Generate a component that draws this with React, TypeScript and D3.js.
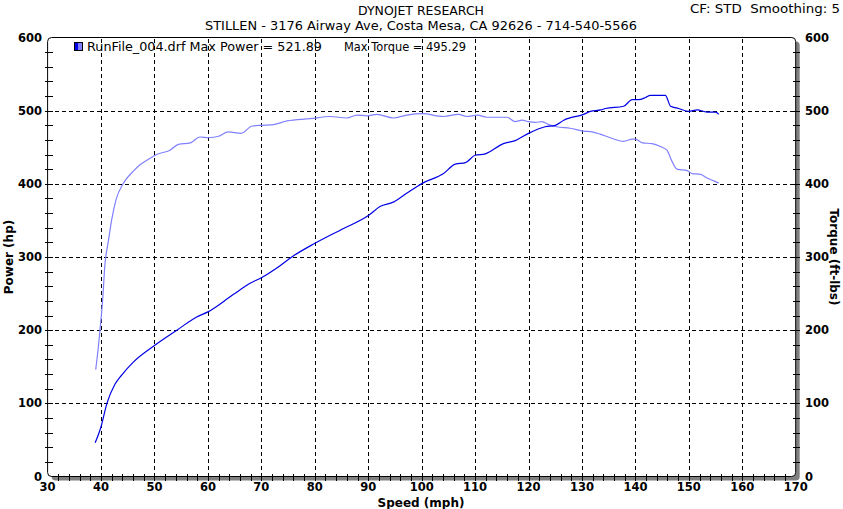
import React from "react";
import * as d3 from "d3";

const powerSpeed = [38.9,40,41.1,42.6,43.9,46,50,54.2,57.9,60,64.8,67.9,70.1,73.5,75.7,80.1,85.1,90.1,92.2,94.7,97.2,100.2,104.1,106.3,108.2,110,111.9,115.3,117.5,120,123.1,125,126.6,130.3,131.6,133.5,134.4,137.8,139.4,140.6,141.9,142.8,145.6,146.6,148.1,150,151.6,153.4,155,155.6];
const powerValues = [46,68,100,126,139,156,179,200,218,225,249,264,272,288,300,319,338,357,369,375,387,401,414,427,429,439,441,455,459,469,478,480,487,495,499,501,503,506,515,515,518,521,521,506,503,499,501,498,498,495];

const torqueSpeed = [39,39.5,39.8,40.3,40.7,41.4,42,42.8,44.2,46,47.3,49.2,50.4,52.9,54.5,56.7,58.5,60.1,62,63.8,66.2,68.3,70,72.3,74.8,79.1,82.9,86,87.9,89.8,91.6,94.7,97.2,100.1,104.1,106.9,108.4,110.4,112.2,116,117.5,118.8,120,121.3,122.5,123.8,125.3,127.8,130.3,131.9,133.4,135.3,137.8,139.4,140,141.3,143.1,144.7,145.9,146.9,147.8,149.7,150.6,152.2,153.4,154.7,155.6];
const torqueValues = [146,177,200,241,287,323,351,378,401,417,426,435,440,446,454,456,464,463,465,471,469,479,480,481,486,489,492,490,494,493,495,490,494,496,492,495,492,494,491,491,485,487,485,484,485,481,478,476,472,471,468,463,458,461,461,456,455,451,446,430,420,418,414,413,408,404,401];

const xTicks = [30,40,50,60,70,80,90,100,110,120,130,140,150,160,170];
const yTicks = [0,100,200,300,400,500,600];

const titleLine1 = "DYNOJET RESEARCH";
const titleLine2 = "STILLEN - 3176 Airway Ave, Costa Mesa, CA 92626 - 714-540-5566";
const cornerText = "CF: STD\u00a0\u00a0Smoothing: 5";
const legendText1 = "RunFile_004.drf Max Power = 521.89";
const legendText2 = "Max Torque = 495.29";

export default function App() {
  const W = 843, H = 509;
  const x = d3.scaleLinear().domain([30, 170]).range([47.6, 795.7]);
  const y = d3.scaleLinear().domain([0, 600]).range([476.5, 37.5]);
  const x0 = x(30), x1 = x(170), y0 = y(600), y1 = y(0);

  const line = d3.line<[number, number]>().x(d => x(d[0])).y(d => y(d[1])).curve(d3.curveMonotoneX);
  const powerPath = line(powerSpeed.map((s, i) => [s, powerValues[i]] as [number, number]))!;
  const torquePath = line(torqueSpeed.map((s, i) => [s, torqueValues[i]] as [number, number]))!;

  const minorX = d3.range(30, 171, 2);
  const minorY = d3.range(0, 601, 20);

  const font = "'DejaVu Sans', Verdana, sans-serif";
  const r = 4;

  return (
    <svg width={W} height={H} style={{ position: "absolute", left: 0, top: 0, background: "#fff" }}>
      <rect x={0} y={0} width={W} height={H} fill="#fff" />
      <rect x={x0 + 4} y={y0 + 4} width={x1 - x0} height={y1 - y0} rx={r} fill="#808080" />
      <rect x={x0} y={y0} width={x1 - x0} height={y1 - y0} rx={r} fill="#fff" stroke="#000" strokeWidth={1} />
      <g stroke="#000" strokeWidth={1} strokeDasharray="4,3" shapeRendering="crispEdges">
        {xTicks.slice(1, -1).map(t => (
          <line key={"gx" + t} x1={Math.round(x(t)) + 0.5} x2={Math.round(x(t)) + 0.5} y1={y0 + 1} y2={y1} />
        ))}
        {yTicks.slice(1, -1).map(t => (
          <line key={"gy" + t} x1={x0} x2={x1} y1={Math.round(y(t)) + 0.5} y2={Math.round(y(t)) + 0.5} />
        ))}
      </g>
      <g stroke="#000" strokeWidth={1} shapeRendering="crispEdges">
        {minorX.slice(1, -1).map(t => (
          <line key={"tx" + t} x1={Math.round(x(t)) + 0.5} x2={Math.round(x(t)) + 0.5} y1={y1 - 3} y2={y1 + 4} />
        ))}
        {minorY.slice(1, -1).map(t => (
          <line key={"tyl" + t} x1={x0 - 3} x2={x0 + 5} y1={Math.round(y(t)) + 0.5} y2={Math.round(y(t)) + 0.5} />
        ))}
        {minorY.slice(1, -1).map(t => (
          <line key={"tyr" + t} x1={x1 - 3} x2={x1 + 4} y1={Math.round(y(t)) + 0.5} y2={Math.round(y(t)) + 0.5} />
        ))}
      </g>
      <path d={torquePath} fill="none" stroke="#8080ff" strokeWidth={1.2} />
      <path d={powerPath} fill="none" stroke="#0000e6" strokeWidth={1.2} />
      <g fontFamily={font} fontWeight="bold" fontSize={11.5} fill="#000">
        {yTicks.map(t => (
          <text key={"yl" + t} x={42} y={y(t) + 4} textAnchor="end">{t}</text>
        ))}
        {yTicks.map(t => (
          <text key={"yr" + t} x={805} y={y(t) + 4} textAnchor="start">{t}</text>
        ))}
        {xTicks.map(t => (
          <text key={"xl" + t} x={x(t)} y={491} textAnchor="middle">{t}</text>
        ))}
      </g>
      <g fontFamily={font} fontWeight="bold" fontSize={12} fill="#000">
        <text x={421} y={507} textAnchor="middle" textLength={87} lengthAdjust="spacingAndGlyphs">Speed (mph)</text>
        <text transform={`translate(13,${(y0 + y1) / 2}) rotate(-90)`} textAnchor="middle">Power (hp)</text>
        <text transform={`translate(830,${(y0 + y1) / 2}) rotate(90)`} textAnchor="middle">Torque (ft-lbs)</text>
      </g>
      <g fontFamily={font} fontSize={12} fill="#000">
        <text x={358} y={15} textLength={126} lengthAdjust="spacingAndGlyphs">{titleLine1}</text>
        <text x={205} y={30} textLength={432} lengthAdjust="spacingAndGlyphs">{titleLine2}</text>
        <text x={690} y={13} textLength={150} lengthAdjust="spacingAndGlyphs">{cornerText}</text>
      </g>
      <rect x={74.5} y={42.5} width={4} height={8} fill="#0000e6" />
      <rect x={78.5} y={42.5} width={4} height={8} fill="#8080ff" />
      <rect x={74.5} y={42.5} width={8} height={8} fill="none" stroke="#000" strokeWidth={1} />
      <g fontFamily={font} fontSize={12} fill="#000">
        <text x={87} y={51} textLength={235} lengthAdjust="spacingAndGlyphs">{legendText1}</text>
        <text x={344} y={51} textLength={122} lengthAdjust="spacingAndGlyphs">{legendText2}</text>
      </g>
    </svg>
  );
}
